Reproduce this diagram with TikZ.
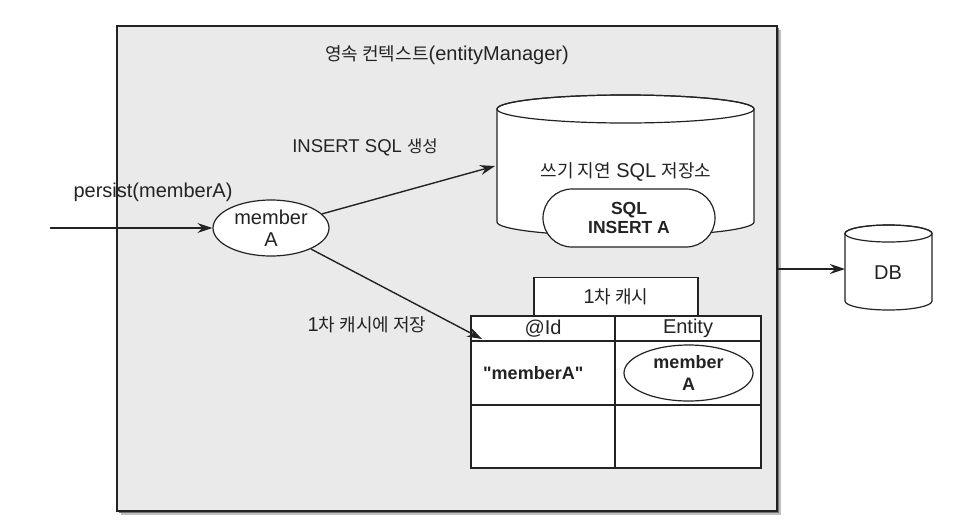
\documentclass[tikz,border=0pt]{standalone}
\usepackage{fontspec}
\setmainfont{Liberation Sans}[Ligatures=TeXOff]
\newfontfamily\kr[Scale=0.9]{Noto Sans CJK KR}
\usetikzlibrary{arrows.meta,shapes.geometric,shapes.misc}
\definecolor{pcbg}{RGB}{234,234,234}
\definecolor{ink}{RGB}{35,35,35}
\begin{document}
\begin{tikzpicture}[x=1pt,y=-1pt,
  lbl/.style={font=\fontsize{20}{22}\selectfont, text=ink, inner sep=0pt},
  arr/.style={-{Stealth[length=15pt,width=10pt,inset=5pt]}, line width=1.4pt, draw=ink},
  box/.style={draw=ink, line width=1.2pt, fill=white},
  cell/.style={box, outer sep=0pt, inner sep=0pt, anchor=north west, font=\fontsize{20}{22}\selectfont, text=ink},
  bold/.style={font=\bfseries\fontsize{18}{22}\selectfont, align=center, text=ink},
]
\useasboundingbox (0,0) rectangle (960,528);
% persistence context box with shadow
\fill[black!25] (121,30) rectangle (781,515);
\fill[black!55] (119,28) rectangle (779,513);
\filldraw[fill=pcbg, draw=ink, line width=1.4pt] (117,26) rectangle (777,511);
\node[lbl] (title) at (447,55) {{\kr 영속 컨텍스트}(entityManager)};

% write-behind SQL store cylinder
\filldraw[box] (497,109) -- (497,222) arc[start angle=180,end angle=0,x radius=128.5,y radius=14]
  -- (754,109) arc[start angle=0,end angle=-180,x radius=128.5,y radius=14] -- cycle;
\draw[ink, line width=1.2pt] (625.5,109) ellipse [x radius=128.5, y radius=14];
\node[lbl] (store) at (626,172) {{\kr 쓰기 지연} SQL {\kr 저장소}};
\node[box, rounded rectangle, minimum width=172pt, minimum height=58pt, inner sep=0pt,
  font=\bfseries\fontsize{17.5}{19.5}\selectfont, align=center, text=ink] (sqlA) at (629,218) {SQL\\INSERT A};

% member A entity
\node[box, ellipse, minimum width=116pt, minimum height=56pt, inner sep=0pt, align=center,
  font=\fontsize{20}{22}\selectfont, text=ink] (mA) at (271,228) {member\\A};
\node[lbl] (persist) at (153,192) {persist(memberA)};
\node[lbl, font=\fontsize{18.5}{20}\selectfont] (ins) at (365,147) {INSERT SQL {\kr 생성}};
\node[lbl] (save) at (367,325) {1{\kr 차 캐시에 저장}};

% first level cache
\node[box, minimum width=164pt, minimum height=39pt, inner sep=0pt, font=\fontsize{20}{22}\selectfont, text=ink] (cache) at (616,297) {1{\kr 차 캐시}};
\node[cell, minimum width=144pt, minimum height=25pt] (hid) at (471,316) {@Id};
\node[cell, minimum width=146pt, minimum height=25pt] (hent) at (615,316) {Entity};
\node[cell, minimum width=144pt, minimum height=64pt] (r1id) at (471,341) {};
\node[cell, minimum width=146pt, minimum height=64pt] (r1ent) at (615,341) {};
\node[cell, minimum width=144pt, minimum height=63pt] (r2id) at (471,405) {};
\node[cell, minimum width=146pt, minimum height=63pt] (r2ent) at (615,405) {};
\node[bold, anchor=west, inner sep=0pt] (idval) at (483,373) {"memberA"};
\node[box, ellipse, minimum width=129pt, minimum height=56pt, inner sep=0pt, bold] (eA) at (688.5,373) {member\\A};

% DB cylinder
\filldraw[box] (845,233.5) -- (845,301) arc[start angle=180,end angle=0,x radius=43.5,y radius=9]
  -- (932,233.5) arc[start angle=0,end angle=-180,x radius=43.5,y radius=8.5] -- cycle;
\draw[ink, line width=1.2pt] (888.5,233.5) ellipse [x radius=43.5, y radius=8.5];
\node[lbl] (db) at (888,273) {DB};

% connectors
\coordinate (pstart) at (50,228);
\coordinate (sqlin) at (495,166);
\coordinate (cachein) at (482,339);
\coordinate (pcright) at (777,269);
\coordinate (dbin) at (845,269);
\draw[arr] (pstart) -- (mA);
\draw[arr] (mA) -- (sqlin);
\draw[arr] (mA) -- (cachein);
\draw[arr] (pcright) -- (dbin);
\end{tikzpicture}
\end{document}
